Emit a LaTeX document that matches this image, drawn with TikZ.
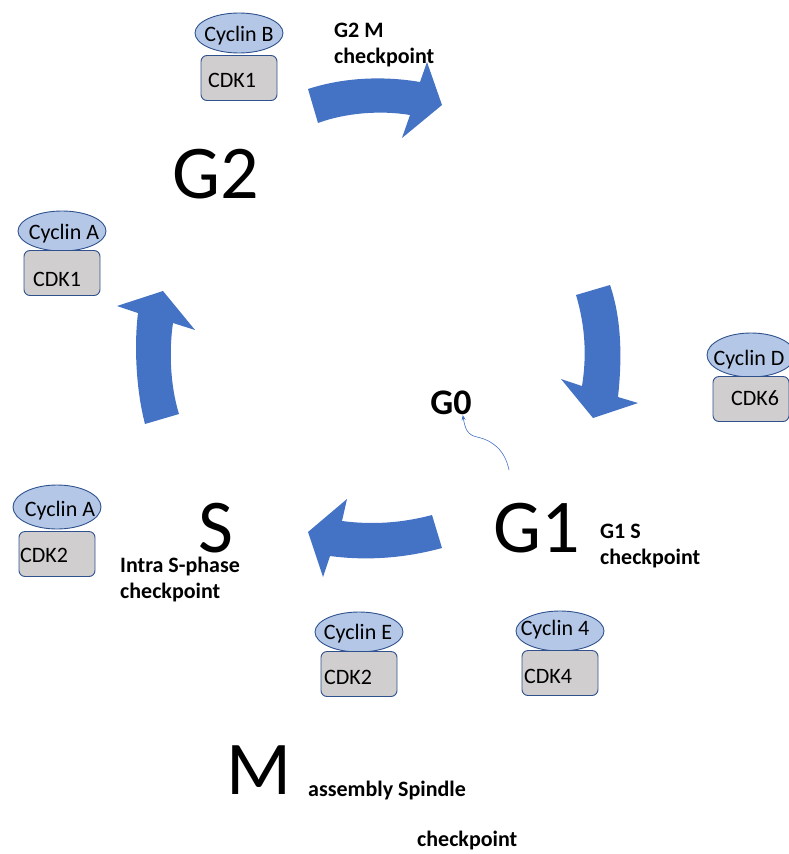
\documentclass[tikz,border=0pt]{standalone}
\usepackage{fontspec}
\setmainfont{Carlito}
\usetikzlibrary{shapes.geometric,arrows.meta}
\definecolor{phaseblue}{HTML}{4472C4}
\definecolor{cycfill}{HTML}{B4C7E7}
\definecolor{cdkfill}{HTML}{D0CECE}
\definecolor{rimblue}{HTML}{2F528F}
\tikzset{
	cyc/.style={ellipse,draw=rimblue,fill=cycfill,line width=0.9pt,minimum width=88pt,minimum height=40pt,inner sep=0pt},
	cdk/.style={draw=rimblue,fill=cdkfill,rounded corners=6pt,line width=0.9pt,minimum width=76pt,minimum height=45pt,inner sep=0pt},
	ptext/.style={font=\fontsize{22}{26}\selectfont,inner sep=0pt},
	check/.style={font=\fontsize{22}{26}\selectfont\bfseries,inner sep=0pt,align=left},
	phase/.style={font=\fontsize{76}{80}\selectfont,inner sep=0pt},
	bigarrow/.style={fill=phaseblue}
}

\begin{document}
\begin{tikzpicture}[x=1pt,y=-1pt]
	\useasboundingbox (0,0) rectangle (788,854);
	
	%PHASES
	\node[phase] (g2) at (216,174) {G2};
	\node[phase] (s) at (216,528) {S};
	\node[phase] (g1) at (537,528) {G1};
	\node[phase] (m) at (259,770) {M};
	\node[font=\fontsize{36}{40}\selectfont\bfseries,inner sep=0pt] (g0) at (451,403) {G0};
	
	%CHECKPOINTS
	\node[check,anchor=north west] (chkgm) at (334,23) {G2 M\\checkpoint};
	\node[check,anchor=north west] (chkgs) at (600,524) {G1 S\\checkpoint};
	\node[check,anchor=north west] (chkis) at (120,557) {Intra S-phase\\checkpoint};
	\node[check,anchor=west] (chkas) at (308,791) {assembly Spindle};
	\node[check,anchor=west] (chksp) at (417,841) {checkpoint};
	
	%BLOCK ARROWS
	\fill[bigarrow] (308,89) .. controls (345,77) and (385,76) .. (420,82) -- (427,62) -- (442,105) -- (402,138) -- (410,115) .. controls (380,110) and (345,113) .. (318,123) -- cycle;
	%
	\fill[bigarrow] (610,285) .. controls (622,320) and (622,360) .. (618,397) -- (638,403) -- (593,418) -- (561,379) -- (582,386) .. controls (587,355) and (585,325) .. (576,295) -- cycle;
	%
	\fill[bigarrow] (432,515) .. controls (402,523) and (372,525) .. (342,521) -- (347,499) -- (308,532) -- (323,577) -- (330,556) .. controls (368,561) and (405,558) .. (442,548) -- cycle;
	%
	\fill[bigarrow] (179,414) .. controls (170,385) and (169,350) .. (173,323) -- (195,330) -- (163,291) -- (117,306) -- (138,313) .. controls (134,345) and (136,390) .. (145,424) -- cycle;
	
	%G0 EXIT
	\coordinate (g0from) at (509,470);
	\draw[phaseblue,line width=0.6pt,-{Stealth[length=5pt,width=4pt]}] (g0from) .. controls (505,450) and (492,440) .. (477,437) .. controls (467,435) and (465,428) .. ([xshift=-9pt]g0.south east);
	
	%CYCLINS AND CDKS
	\node[cyc] (cycb) at (239,33) {};
	\node[ptext] at (239,36) {Cyclin B};
	\node[cdk] (cdkb) at (239,78) {};
	\node[ptext] at (232,80) {CDK1};
	%
	\node[cyc] (cyca) at (62,231) {};
	\node[ptext] at (64,234) {Cyclin A};
	\node[cdk] (cdka) at (62,273) {};
	\node[ptext] at (57,279) {CDK1};
	%
	\node[cyc,minimum height=44pt] (cycd) at (751,355) {};
	\node[ptext] at (749,360) {Cyclin D};
	\node[cdk] (cdkd) at (751,399) {};
	\node[ptext] at (755,398) {CDK6};
	%
	\node[cyc,minimum height=44pt] (cycas) at (57,507) {};
	\node[ptext] at (60,511) {Cyclin A};
	\node[cdk] (cdkas) at (57,554) {};
	\node[ptext] at (44,555) {CDK2};
	%
	\node[cyc] (cyce) at (359,632) {};
	\node[ptext] at (358,634) {Cyclin E};
	\node[cdk] (cdke) at (359,674) {};
	\node[ptext] at (348,677) {CDK2};
	%
	\node[cyc] (cycf) at (560,631) {};
	\node[ptext] at (555,630) {Cyclin 4};
	\node[cdk] (cdkf) at (560,673) {};
	\node[ptext] at (548,676) {CDK4};
\end{tikzpicture}
\end{document}
